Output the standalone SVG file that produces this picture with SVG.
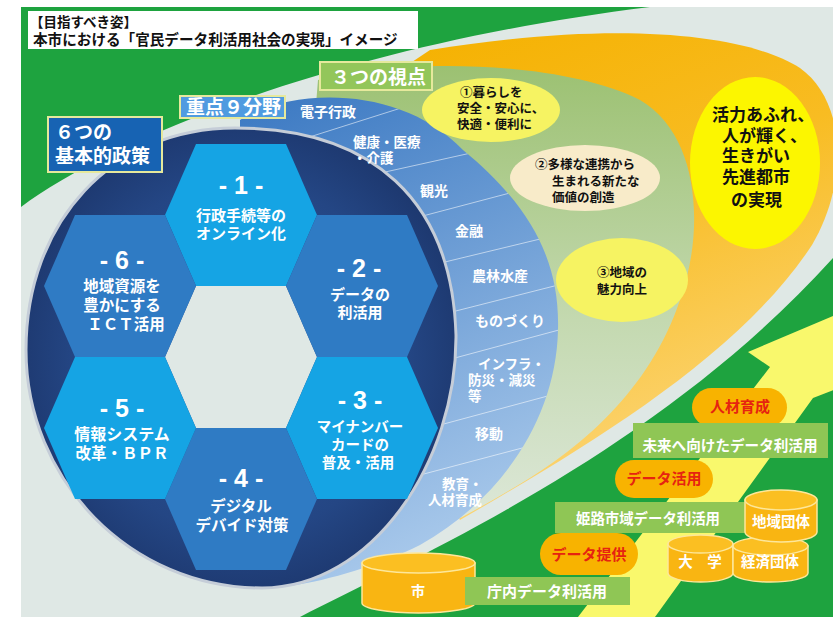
<svg xmlns="http://www.w3.org/2000/svg" width="833" height="617" viewBox="0 0 833 617">
<defs>
  <linearGradient id="gSwoosh" x1="0" y1="0" x2="0.35" y2="1">
    <stop offset="0" stop-color="#f5b100"/>
    <stop offset="0.45" stop-color="#f8bc22"/>
    <stop offset="1" stop-color="#fcd679"/>
  </linearGradient>
  <linearGradient id="gCres" x1="0" y1="0" x2="0" y2="1">
    <stop offset="0" stop-color="#9cc172"/>
    <stop offset="0.5" stop-color="#c4d9b0"/>
    <stop offset="1" stop-color="#e3ebe3"/>
  </linearGradient>
  <linearGradient id="gBand" x1="0" y1="0" x2="0.3" y2="1">
    <stop offset="0" stop-color="#3a78c2"/>
    <stop offset="1" stop-color="#a6c7ea"/>
  </linearGradient>
  <radialGradient id="gNavy" cx="0.5" cy="0.5" r="0.55">
    <stop offset="0" stop-color="#30599a"/>
    <stop offset="0.7" stop-color="#244684"/>
    <stop offset="1" stop-color="#1c366c"/>
  </radialGradient>
  <clipPath id="cBand">
    <path d="M240,120 C290,88 400,84 463,150 C530,205 560,260 558,330 C556,420 500,500 420,545 C380,565 330,580 290,586 L240,360 Z"/>
  </clipPath>
</defs>
<style>
  text { font-family: 'Liberation Sans', 'Noto Sans CJK JP', 'Noto Sans', sans-serif; font-weight: 700; }
  .w { fill: #ffffff; }
  .k { fill: #111111; }
  .r { fill: #e62310; }
  .mid { text-anchor: middle; }
  .hexA { fill: #15a4e4; }
  .hexB { fill: #2f7bc4; }
  .pill { fill: #f8b300; }
  .gbox { fill: #8fc655; }
  .cyl { fill: #f9b512; stroke: #fde79a; stroke-width: 1.5; }
  .cyltop { fill: #fbbf22; stroke: #fde79a; stroke-width: 1.5; }
  .lbl { stroke: #e6e99c; stroke-width: 2; }
  .sep { stroke: #ffffff; stroke-opacity: 0.55; stroke-width: 1; }
</style>

<!-- background -->
<rect x="0" y="0" width="833" height="617" fill="#ffffff"/>
<rect x="21" y="7" width="812" height="610" fill="#dfe8e5"/>

<!-- green regions -->
<path d="M21,7 L650,7 C340,45 110,140 21,207 Z" fill="#1ea33f"/>
<path d="M300,617 C420,555 660,450 833,258 L833,617 Z" fill="#1ea33f"/>

<!-- yellow arrow -->
<path d="M578,617 L770,367 L748,352 L880,296 L880,372 L813,398 L655,617 Z" fill="#f9f86c"/>

<!-- orange swoosh -->
<path d="M460,520 C590,445 740,355 812,245 C850,180 845,100 800,68 C740,30 600,22 430,50 L400,70 L400,420 Z" fill="url(#gSwoosh)"/>

<!-- vision ellipse -->
<g id="vision">
  <ellipse cx="755" cy="163" rx="65" ry="86" fill="#fcf600"/>
  <text class="k" font-size="17" x="712" y="121">活力あふれ、</text>
  <text class="k" font-size="17" x="722" y="142">人が輝く、</text>
  <text class="k" font-size="17" x="722" y="162">生きがい</text>
  <text class="k" font-size="17" x="722" y="183">先進都市</text>
  <text class="k" font-size="17" x="731" y="206">の実現</text>
</g>

<!-- three viewpoints crescent -->
<path d="M318,80 C400,58 560,60 640,100 C700,135 705,230 680,300 C650,390 580,450 510,490 C460,520 400,550 330,575 L300,300 Z" fill="url(#gCres)"/>

<!-- nine fields band -->
<path d="M240,120 C290,88 400,84 463,150 C530,205 560,260 558,330 C556,420 500,500 420,545 C380,565 330,580 290,586 L240,360 Z" fill="url(#gBand)"/>
<g id="separators" clip-path="url(#cBand)">
  <line class="sep" x1="300" y1="140" x2="420" y2="102"/>
  <line class="sep" x1="340" y1="182" x2="480" y2="151"/>
  <line class="sep" x1="400" y1="222" x2="525" y2="189"/>
  <line class="sep" x1="420" y1="268" x2="565" y2="233"/>
  <line class="sep" x1="440" y1="315" x2="570" y2="282"/>
  <line class="sep" x1="440" y1="362" x2="570" y2="327"/>
  <line class="sep" x1="440" y1="425" x2="570" y2="390"/>
  <line class="sep" x1="420" y1="475" x2="560" y2="438"/>
</g>

<!-- viewpoint ellipses -->
<g id="view1">
  <ellipse cx="491" cy="110" rx="69" ry="32" fill="#f6f362"/>
  <text class="k" font-size="12.5" x="460" y="97">①暮らしを</text>
  <text class="k" font-size="12.5" x="457" y="113">安全・安心に、</text>
  <text class="k" font-size="12.5" x="457" y="129">快適・便利に</text>
</g>
<g id="view2">
  <ellipse cx="585" cy="178" rx="75" ry="33" fill="#f8ebc9"/>
  <text class="k" font-size="12.5" x="535" y="169">②多様な連携から</text>
  <text class="k" font-size="12.5" x="552" y="186">生まれる新たな</text>
  <text class="k" font-size="12.5" x="552" y="202">価値の創造</text>
</g>
<g id="view3">
  <ellipse cx="622" cy="280" rx="66" ry="42" fill="#f6f362"/>
  <text class="k" font-size="12.5" x="597" y="277">③地域の</text>
  <text class="k" font-size="12.5" x="597" y="294">魅力向上</text>
</g>

<!-- navy policies ellipse -->
<path d="M235,128 C372,128 452,200 456,335 C457,462 372,588 262,588 C130,588 26,480 26,350 C26,222 112,128 235,128 Z" fill="url(#gNavy)" stroke="#c5cdd8" stroke-width="3"/>

<!-- band labels -->
<g id="fields" font-size="14">
  <text class="w" x="300" y="117">電子行政</text>
  <text class="w" font-size="13.5" x="353" y="147">健康・医療</text>
  <text class="w" font-size="13.5" x="353" y="163">・介護</text>
  <text class="w" x="420" y="196">観光</text>
  <text class="w" x="455" y="236">金融</text>
  <text class="w" x="472" y="281">農林水産</text>
  <text class="w" x="475" y="326">ものづくり</text>
  <text class="w" font-size="13.5" x="478" y="369">インフラ・</text>
  <text class="w" font-size="13.5" x="468" y="385">防災・減災</text>
  <text class="w" font-size="13.5" x="468" y="401">等</text>
  <text class="w" x="475" y="439">移動</text>
  <text class="w" font-size="13.5" x="442" y="489">教育・</text>
  <text class="w" font-size="13.5" x="428" y="505">人材育成</text>
</g>

<!-- hexagons -->
<polygon points="165,357 196,286 286,286 317,357 286,428 196,428" fill="#dfe8e5"/>
<g id="hex1">
  <polygon class="hexA" points="165,215 196,144 286,144 317,215 286,286 196,286"/>
  <text class="w mid" font-size="25" x="241" y="194">- 1 -</text>
  <text class="w mid" font-size="15" x="241" y="221">行政手続等の</text>
  <text class="w mid" font-size="15" x="241" y="239">オンライン化</text>
</g>
<g id="hex2">
  <polygon class="hexB" points="286,286 317,215 407,215 438,286 407,357 317,357"/>
  <text class="w mid" font-size="25" x="359" y="277">- 2 -</text>
  <text class="w mid" font-size="15" x="360" y="300">データの</text>
  <text class="w mid" font-size="15" x="360" y="318">利活用</text>
</g>
<g id="hex3">
  <polygon class="hexA" points="286,428 317,357 407,357 438,428 407,499 317,499"/>
  <text class="w mid" font-size="25" x="360" y="409">- 3 -</text>
  <text class="w mid" font-size="14.5" x="360" y="432">マイナンバー</text>
  <text class="w mid" font-size="14.5" x="360" y="450">カードの</text>
  <text class="w mid" font-size="14.5" x="358" y="468">普及・活用</text>
</g>
<g id="hex4">
  <polygon class="hexB" points="165,499 196,428 286,428 317,499 286,570 196,570"/>
  <text class="w mid" font-size="25" x="241" y="487">- 4 -</text>
  <text class="w mid" font-size="15.5" x="241" y="512">デジタル</text>
  <text class="w mid" font-size="15.5" x="242" y="531">デバイド対策</text>
</g>
<g id="hex5">
  <polygon class="hexA" points="44,428 75,357 165,357 196,428 165,499 75,499"/>
  <text class="w mid" font-size="25" x="122" y="417">- 5 -</text>
  <text class="w mid" font-size="16" x="122" y="440">情報システム</text>
  <text class="w mid" font-size="15.5" x="122" y="459">改革・ＢＰＲ</text>
</g>
<g id="hex6">
  <polygon class="hexB" points="44,286 75,215 165,215 196,286 165,357 75,357"/>
  <text class="w mid" font-size="25" x="122" y="269">- 6 -</text>
  <text class="w mid" font-size="15.5" x="122" y="292">地域資源を</text>
  <text class="w mid" font-size="15.5" x="122" y="311">豊かにする</text>
  <text class="w mid" font-size="15.5" x="126" y="330">ＩＣＴ活用</text>
</g>

<!-- label boxes -->
<g id="title">
  <rect x="28" y="11" width="390" height="38" fill="#ffffff"/>
  <text class="k" font-size="13.5" x="30" y="27">【目指すべき姿】</text>
  <text class="k" font-size="14.6" x="33" y="45">本市における「官民データ利活用社会の実現」イメージ</text>
</g>
<g id="label-views">
  <rect class="lbl" x="320" y="62" width="112" height="28" fill="#93c65a"/>
  <text class="w" font-size="19" x="331" y="84">３つの視点</text>
</g>
<g id="label-fields">
  <rect class="lbl" x="180" y="96" width="105" height="22" fill="#4f9be0"/>
  <text class="w" font-size="19" x="186" y="114">重点９分野</text>
</g>
<g id="label-policies">
  <rect class="lbl" x="48" y="117" width="114" height="55" fill="#1763b3"/>
  <text class="w" font-size="19" x="55" y="139">６つの</text>
  <text class="w" font-size="19" x="55" y="163">基本的政策</text>
</g>

<!-- bottom-right data steps -->
<g id="jinzai">
  <rect class="pill" x="692" y="388" width="95" height="39" rx="19.5"/>
  <text class="r mid" font-size="15" x="740" y="412">人材育成</text>
</g>
<g id="mirai">
  <rect class="gbox" x="633" y="423" width="195" height="35"/>
  <text class="w mid" font-size="14.6" x="730" y="451">未来へ向けたデータ利活用</text>
</g>
<g id="katsuyo">
  <rect class="pill" x="615" y="460" width="98" height="38" rx="19"/>
  <text class="r mid" font-size="15" x="664" y="484">データ活用</text>
</g>
<g id="himeji">
  <rect class="gbox" x="555" y="502" width="190" height="31"/>
  <text class="w mid" font-size="14.4" x="648" y="524">姫路市域データ利活用</text>
</g>
<g id="teikyo">
  <rect class="pill" x="540" y="533" width="98" height="42" rx="21"/>
  <text class="r mid" font-size="15" x="589" y="560">データ提供</text>
</g>
<g id="daigaku">
  <path class="cyl" d="M668,544 V573 A32.5,9 0 0 0 733,573 V544 Z"/>
  <ellipse class="cyltop" cx="700.5" cy="544" rx="32.5" ry="9"/>
  <text class="w mid" font-size="14.5" x="700" y="567">大　学</text>
</g>
<g id="keizai">
  <path class="cyl" d="M733,546 V573 A37.5,9 0 0 0 808,573 V546 Z"/>
  <ellipse class="cyltop" cx="770.5" cy="546" rx="37.5" ry="9"/>
  <text class="w mid" font-size="14.5" x="770" y="567">経済団体</text>
</g>
<g id="chiiki">
  <path class="cyl" d="M745,500 V532 A36,10 0 0 0 817,532 V500 Z"/>
  <ellipse class="cyltop" cx="781" cy="500" rx="36" ry="10"/>
  <text class="w mid" font-size="14.5" x="781" y="527">地域団体</text>
</g>
<g id="city">
  <path class="cyl" d="M362,563 V603 A56.5,10 0 0 0 475,603 V563 Z"/>
  <ellipse class="cyltop" cx="418.5" cy="563" rx="56.5" ry="10"/>
  <text class="w mid" font-size="14" x="418" y="596">市</text>
</g>
<g id="chonai">
  <rect class="gbox" x="465" y="577" width="165" height="28"/>
  <text class="w mid" font-size="15" x="547" y="597">庁内データ利活用</text>
</g>
</svg>
